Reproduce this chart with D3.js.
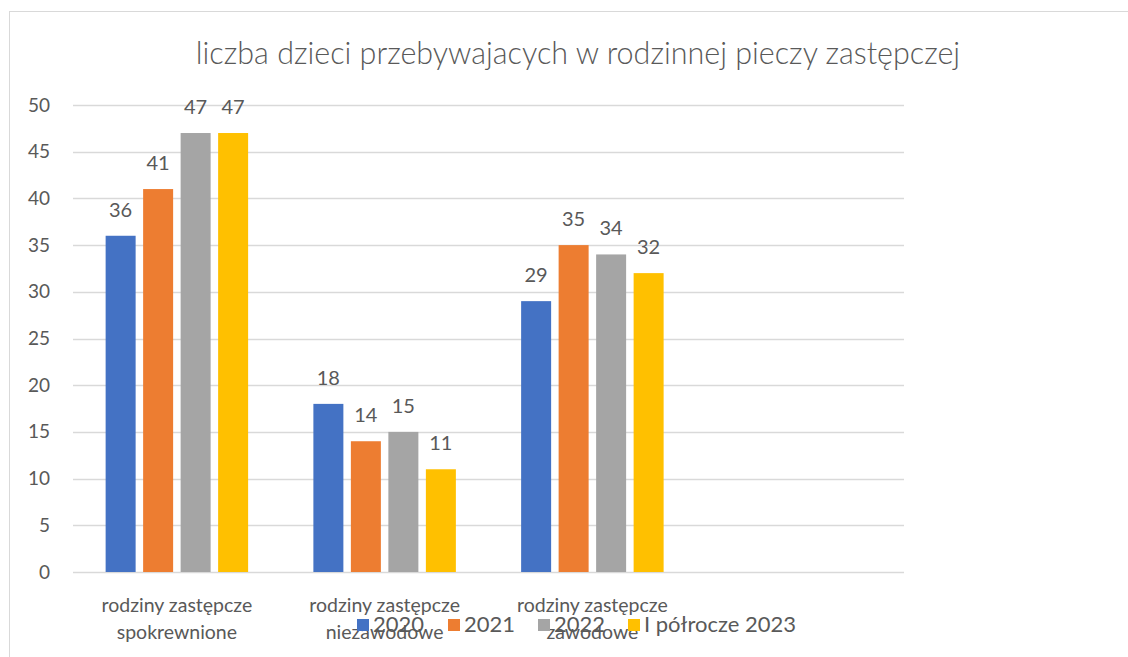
<!DOCTYPE html>
<meta charset="utf-8">
<script src="https://d3js.org/d3.v7.min.js"></script>
<style>
  body { margin: 0; background: #fff; }
  text { font-family: Lato, "Open Sans", sans-serif; fill: #595959; }
</style>
<div id="chart"></div>
<script>
  // data
  var categories = [["rodziny zastępcze", "spokrewnione"], ["rodziny zastępcze", "niezawodowe"], ["rodziny zastępcze", "zawodowe"], [""]];
  var seriesNames = ["2020", "2021", "2022", "I półrocze 2023"];
  var seriesColors = ["#4472C4", "#ED7D31", "#A5A5A5", "#FFC000"];
  var values2020 = [36, 18, 29];
  var values2021 = [41, 14, 35];
  var values2022 = [47, 15, 34];
  var valuesH1_2023 = [47, 11, 32];
  var yTicks = [0, 5, 10, 15, 20, 25, 30, 35, 40, 45, 50];

  var allSeries = [values2020, values2021, values2022, valuesH1_2023];

  var W = 1128, H = 657;
  var svg = d3.select("#chart").append("svg")
    .attr("width", W).attr("height", H);

  // outer frame
  svg.append("rect")
    .attr("x", 9.5).attr("y", 11.5)
    .attr("width", W + 20).attr("height", H + 20)
    .attr("fill", "none").attr("stroke", "#D9D9D9").attr("stroke-width", 1);

  var plot = { left: 73, right: 904, top: 105, bottom: 572 };

  var x0 = d3.scaleBand()
    .domain(d3.range(categories.length))
    .range([plot.left, plot.right]);

  var groupW = x0.bandwidth() * 0.722;
  var x1 = d3.scaleBand()
    .domain(d3.range(seriesNames.length))
    .range([0, groupW])
    .paddingInner(0.2).paddingOuter(0.1);

  var y = d3.scaleLinear().domain([0, 50]).range([plot.bottom, plot.top]);

  // gridlines
  svg.append("g").selectAll("line")
    .data(yTicks).enter().append("line")
    .attr("x1", plot.left).attr("x2", plot.right)
    .attr("y1", function (d) { return Math.round(y(d)) + 0.5; })
    .attr("y2", function (d) { return Math.round(y(d)) + 0.5; })
    .attr("stroke", "#D9D9D9").attr("stroke-width", 1.3);

  // y axis labels
  var yAxis = d3.axisLeft(y).tickValues(yTicks).tickSize(0).tickPadding(0);
  var gY = svg.append("g")
    .attr("transform", "translate(50,0)")
    .call(yAxis);
  gY.select(".domain").remove();
  gY.selectAll("text")
    .style("font-size", "19px").attr("fill", "#595959")
    .style("font-family", "Lato, sans-serif");

  // bars
  var groups = svg.append("g").selectAll("g")
    .data(allSeries).enter().append("g")
    .attr("fill", function (d, i) { return seriesColors[i]; });

  function barX(ci, si) {
    return x0(ci) + (x0.bandwidth() - groupW) / 2 + x1(si);
  }

  groups.each(function (vals, si) {
    var g = d3.select(this);
    g.selectAll("rect").data(vals).enter().append("rect")
      .attr("x", function (d, ci) { return barX(ci, si); })
      .attr("y", function (d) { return y(d); })
      .attr("width", x1.bandwidth())
      .attr("height", function (d) { return y(0) - y(d); });
    g.selectAll("text").data(vals).enter().append("text")
      .attr("x", function (d, ci) { return barX(ci, si) + x1.bandwidth() / 2; })
      .attr("y", function (d) { return y(d) - 19; })
      .attr("text-anchor", "middle")
      .style("font-size", "20px")
      .text(function (d) { return d; });
  });

  // category labels
  var cat = svg.append("g").selectAll("text")
    .data(categories).enter().append("text")
    .attr("text-anchor", "middle")
    .attr("x", function (d, i) { return x0(i) + x0.bandwidth() / 2; })
    .attr("y", 612)
    .style("font-size", "19.5px");
  cat.selectAll("tspan").data(function (d) { return d; }).enter().append("tspan")
    .attr("x", function () { return d3.select(this.parentNode).attr("x"); })
    .attr("dy", function (d, i) { return i === 0 ? 0 : 27; })
    .text(function (d) { return d; });

  // title
  svg.append("text")
    .attr("x", 578).attr("y", 64)
    .attr("text-anchor", "middle")
    .style("font-size", "30.5px")
    .style("font-weight", 300)
    .text("liczba dzieci przebywajacych w rodzinnej pieczy zastępczej");

  // legend
  var legendX = [357, 448, 538, 628];
  var leg = svg.append("g").selectAll("g")
    .data(seriesNames).enter().append("g")
    .attr("transform", function (d, i) { return "translate(" + legendX[i] + ",619)"; });
  leg.append("rect")
    .attr("width", 12).attr("height", 12)
    .attr("fill", function (d, i) { return seriesColors[i]; });
  leg.append("text")
    .attr("x", 16).attr("y", 13)
    .style("font-size", "22px")
    .text(function (d) { return d; });
</script>
